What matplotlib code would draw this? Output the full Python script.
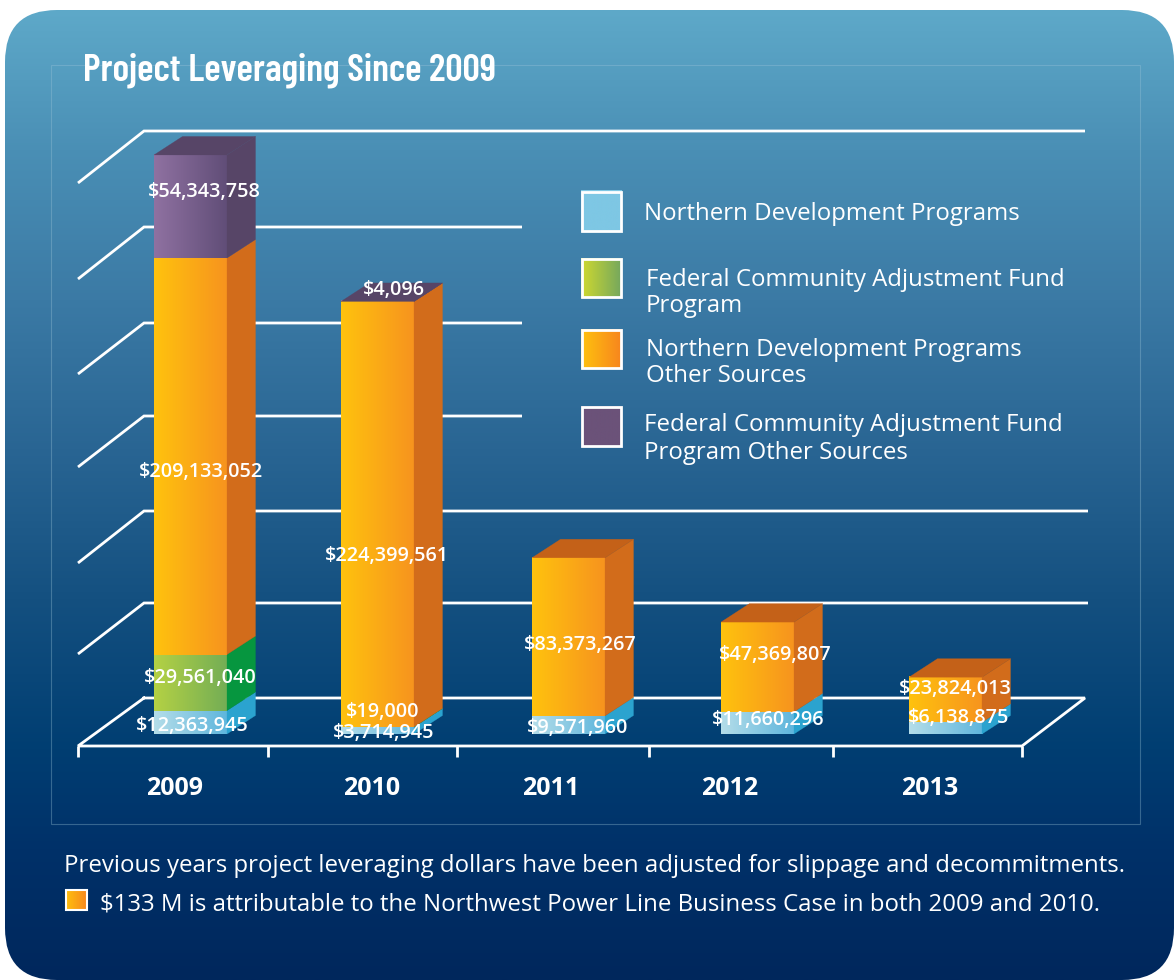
import numpy as np
import matplotlib
matplotlib.use("Agg")
import matplotlib.pyplot as plt
from matplotlib.colors import LinearSegmentedColormap, to_rgb
from matplotlib.patches import FancyBboxPatch, Polygon, Rectangle

# ---------- data ----------
years = ["2009", "2010", "2011", "2012", "2013"]
northern_dev = [12363945, 3714945, 9571960, 11660296, 6138875]
federal_caf = [29561040, 19000, 0, 0, 0]
northern_other = [209133052, 224399561, 83373267, 47369807, 23824013]
federal_other = [54343758, 4096, 0, 0, 0]
legend_labels = ["Northern Development Programs",
                 "Federal Community Adjustment Fund\nProgram",
                 "Northern Development Programs\nOther Sources",
                 "Federal Community Adjustment Fund\nProgram Other Sources"]
title = "Project Leveraging Since 2009"
note1 = "Previous years project leveraging dollars have been adjusted for slippage and decommitments."
note2 = "$133 M is attributable to the Northwest Power Line Business Case in both 2009 and 2010."

# ---------- layout (pixels of the 1174x980 canvas) ----------
W, H = 1174, 980
PX_PER_M = 1.896
BASE_PY = 734
BAR_X0, BAR_STEP, BAR_W = 154, 188.75, 73
BAR_NUDGE = [0, -1.75, 0.5, 0.75, 0]
DEPTH_X, DEPTH_Y = 28.5, 18.5
series = [northern_dev, federal_caf, northern_other, federal_other]
styles = [("#b4dde9", "#5fb6dd", "#2ba3cf", "#2ba3cf"),
          ("#b4d144", "#74ae55", "#06963f", "#06963f"),
          ("#ffc20e", "#f7941e", "#d26c1b", "#c46118"),
          ("#8f71a1", "#614e78", "#574567", "#574567")]
label_pos = {
    (0, 3): (204, 191), (0, 2): (201, 471), (0, 1): (200, 677), (0, 0): (192, 725),
    (1, 3): (394, 289), (1, 2): (387, 555), (1, 1): (383, 711), (1, 0): (384, 732),
    (2, 2): (580, 644), (2, 0): (578, 727),
    (3, 2): (775, 654), (3, 0): (768, 719),
    (4, 2): (955, 688), (4, 0): (959, 717),
}
year_x = [175, 372, 551, 730, 930]
tick_x = [78, 268, 457, 649, 833, 1022]
front_py = [654, 563, 467, 374, 279, 183]
back_py = [603, 511, 416, 323, 227, 131]
line_end = [1088, 1088, 522, 522, 522, 1085]
SANS = ["Open Sans", "Noto Sans", "DejaVu Sans"]
NARROW = ["Barlow Condensed", "Fira Sans Condensed", "DejaVu Sans"]

fig = plt.figure(figsize=(W / 100, H / 100), dpi=100, facecolor="white")


def pixel_axes(z):
    a = fig.add_axes([0, 0, 1, 1], zorder=z)
    a.set_xlim(0, W)
    a.set_ylim(H, 0)
    a.axis("off")
    a.patch.set_alpha(0)
    return a


bg = pixel_axes(0)
top = pixel_axes(2)
ax = fig.add_axes([0, 0, 1, 1], zorder=1)
ax.axis("off")
ax.patch.set_alpha(0)


def hgrad(c0, c1, n=64):
    return LinearSegmentedColormap.from_list("g", [c0, c1], N=n)


# background
stops_y = [10, 150, 300, 450, 600, 750, 850, 980]
stops_c = ["#5ea9c9", "#4a8fb5", "#3b7aa5", "#296593", "#145080", "#003e72", "#003169", "#00275c"]
rows = np.linspace(10, 980, 400)
cols = np.array([to_rgb(c) for c in stops_c])
img = np.stack([np.interp(rows, stops_y, cols[:, k]) for k in range(3)], axis=1)[:, None, :]
im = bg.imshow(img, extent=(5, W, 980, 10), aspect="auto", zorder=0)
clip = FancyBboxPatch((5 + 52, 10 + 52), W - 5 - 104, 970 - 104,
                      boxstyle="round,pad=52,rounding_size=52", transform=bg.transData,
                      fc="none", ec="none")
bg.add_patch(clip)
im.set_clip_path(clip)
bg.set_xlim(0, W)
bg.set_ylim(H, 0)

# thin panel frame
bg.add_patch(Rectangle((51, 65), 1089, 759, fc="none", ec="#9cc5d8", alpha=0.35, lw=0.8, zorder=1))

# grid walls
FRONT0, BACK0 = 746, 698
lw = 2.0
for yf, yb, xe in zip(front_py, back_py, line_end):
    bg.plot([78, 144, xe], [yf, yb, yb], color="white", lw=lw, zorder=2, solid_capstyle="butt", solid_joinstyle="miter")
bg.plot([144, 1085, 1022, 78, 144], [BACK0, BACK0, FRONT0, FRONT0, BACK0], color="white", lw=lw, zorder=2, solid_joinstyle="miter")
for tx in tick_x:
    bg.plot([tx, tx], [FRONT0, 757], color="white", lw=lw, zorder=2, solid_capstyle="butt")

# ---------- bars, in data units ($M, category index) ----------
x_scale = BAR_STEP
x0_data = (BAR_X0 + BAR_W / 2)
xlim = (-x0_data / x_scale, (W - x0_data) / x_scale)
ylim = (-(H - BASE_PY) / PX_PER_M, BASE_PY / PX_PER_M)
bw = BAR_W / x_scale
dx = DEPTH_X / x_scale
dy = DEPTH_Y / PX_PER_M

for i in range(len(years)):
    bottom = 0.0
    centre = i + BAR_NUDGE[i] / x_scale
    left = centre - bw / 2
    right = centre + bw / 2
    last = None
    for s, st in zip(series, styles):
        h = s[i] / 1e6
        if h <= 0:
            continue
        ax.imshow(np.linspace(0, 1, 64)[None, :], cmap=hgrad(st[0], st[1]),
                  extent=(left, right, bottom, bottom + h), aspect="auto",
                  origin="lower", zorder=3, interpolation="bilinear")
        ax.add_patch(Polygon([(right, bottom), (right + dx, bottom + dy),
                              (right + dx, bottom + h + dy), (right, bottom + h)],
                             fc=st[2], ec=st[2], lw=0.2, zorder=3))
        bottom += h
        last = st
    ax.add_patch(Polygon([(left, bottom), (left + dx, bottom + dy),
                          (right + dx, bottom + dy), (right, bottom)],
                         fc=last[3], ec=last[3], lw=0.2, zorder=3))
ax.set_xlim(*xlim)
ax.set_ylim(*ylim)

# value labels
for (i, k), (lx, ly) in label_pos.items():
    top.text(lx, ly + 1, f"${series[k][i]:,}", color="white", ha="center", va="center",
             family=SANS, fontsize=14.3, fontweight="semibold", zorder=5)

# years
for yr, xp in zip(years, year_x):
    top.text(xp, 788, yr, color="white", ha="center", va="center", family=SANS,
             fontsize=18, fontweight="bold")

# title
top.text(83, 70, title, color="white", ha="left", va="center", family=NARROW,
         fontsize=27.6, fontweight=600)

# legend
sw_y = [(191, 232), (258, 298), (329, 369), (406, 447)]
sw_grad = [("#7ec7e4", "#7ec7e4"), ("#cfd92f", "#74a75e"), ("#ffc20e", "#f7851e"), ("#6b5279", "#6b5279")]
text_x = [644, 646, 646, 644]
text_y = [214, 293, 363, 439]
line_sp = [1.0, 1.1, 1.1, 1.23]
for (y0, y1), g, lab, tx, ty, sp in zip(sw_y, sw_grad, legend_labels, text_x, text_y, line_sp):
    top.imshow(np.linspace(0, 1, 64)[None, :], cmap=hgrad(*g), extent=(581, 622, y1, y0), aspect="auto", zorder=3)
    top.add_patch(Rectangle((582, y0 + 1), 39, y1 - y0 - 2, fc="none", ec="white", lw=2.0, zorder=4))
    top.text(tx, ty, lab, color="white", ha="left", va="center", family=SANS, fontsize=17.25, linespacing=sp)

# notes
top.text(64, 866, note1, color="white", ha="left", va="center", family=SANS, fontsize=17.25)
top.imshow(np.linspace(0, 1, 64)[None, :], cmap=hgrad("#ffc20e", "#f7851e"), extent=(65, 88, 911, 889), aspect="auto", zorder=3)
top.add_patch(Rectangle((66, 890), 21, 20, fc="none", ec="white", lw=1.5, zorder=4))
top.text(100, 904, note2, color="white", ha="left", va="center", family=SANS, fontsize=17.25)
top.set_xlim(0, W)
top.set_ylim(H, 0)

fig.savefig("out.png", dpi=100, facecolor="white")
